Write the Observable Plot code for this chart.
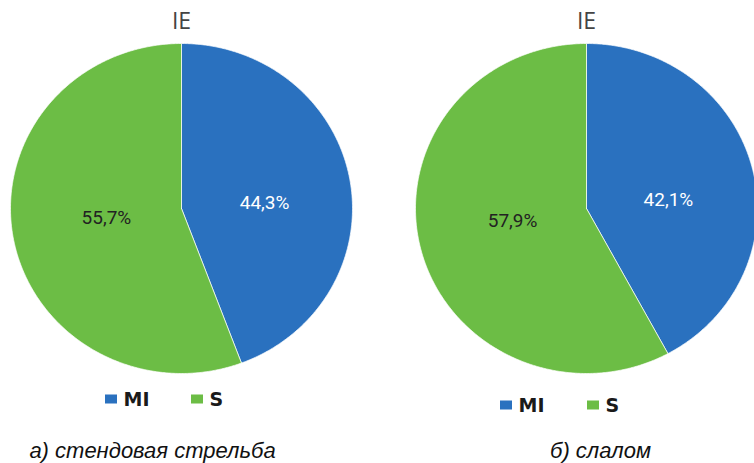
<!DOCTYPE html>
<html><head><meta charset="utf-8">
<script src="https://cdn.jsdelivr.net/npm/d3@7"></script>
<script src="https://cdn.jsdelivr.net/npm/@observablehq/plot@0.6"></script>
<style>body{margin:0;background:#fff} svg{display:block}</style>
</head><body><div id="chart"></div>
<script>
// ---- data ----
const panels = ["а) стендовая стрельба", "б) слалом"];
const panelTitle = "IE";
const categories = ["MI", "S"];
const valuesMI = [44.3, 42.1];
const valuesS = [55.7, 57.9];
const colors = ["#2a71bf", "#6cbd45"];
const labelColors = ["#ffffff", "#222222"];

// ---- layout ----
const W = 754, H = 463;
const centersX = [181, 586], centerY = 208, rx = 171, ry = 165;
const legendSwatchX = [[105, 191], [500, 587]], legendY = [399, 405];
const captionX = [152, 600], captionY = 450, titleY = 21;

const slices = [], labels = [], legend = [], titles = [], captions = [];
panels.forEach((name, p) => {
  const vals = [valuesMI[p], valuesS[p]];
  const total = d3.sum(vals);
  let start = 0;
  vals.forEach((v, i) => {
    const a0 = start / total * 2 * Math.PI, a1 = (start + v) / total * 2 * Math.PI;
    const key = p + "-" + i;
    slices.push({key, cat: categories[i], x: centersX[p], y: centerY});
    const n = Math.max(2, Math.ceil((a1 - a0) / (Math.PI / 360)));
    for (let k = 0; k <= n; k++) {
      const a = a0 + (a1 - a0) * k / n;
      slices.push({key, cat: categories[i], x: centersX[p] + rx * Math.sin(a), y: centerY - ry * Math.cos(a)});
    }
    slices.push({key, cat: categories[i], x: centersX[p], y: centerY});
    const m = (a0 + a1) / 2;
    labels.push({cat: categories[i], text: v.toFixed(1).replace(".", ",") + "%",
      x: centersX[p] + 0.47 * rx * Math.sin(m), y: centerY - 0.25 * ry * Math.cos(m)});
    legend.push({cat: categories[i], x: legendSwatchX[p][i], y: legendY[p]});
    start += v;
  });
  titles.push({text: panelTitle, x: centersX[p], y: titleY});
  captions.push({text: name, x: captionX[p], y: captionY});
});

const plot = Plot.plot({
  width: W, height: H, margin: 0,
  x: {domain: [0, W], range: [0, W], axis: null},
  y: {domain: [0, H], range: [0, H], axis: null},
  color: {domain: categories, range: colors},
  style: {background: "#fff"},
  marks: [
    Plot.line(slices, {x: "x", y: "y", z: "key", fill: "cat", stroke: "#ffffff", strokeWidth: 1, strokeOpacity: 0.7, curve: "linear"}),
    Plot.text(labels, {x: "x", y: "y", dx: 4, dy: 2, text: "text", fill: d => labelColors[categories.indexOf(d.cat)], fontSize: 19, fontFamily: "Roboto"}),
    Plot.rect(legend, {x1: "x", x2: d => d.x + 12, y1: d => d.y - 4.5, y2: d => d.y + 4.5, fill: "cat"}),
    Plot.text(legend, {x: d => d.x + 18, y: "y", text: "cat", textAnchor: "start", fill: "#1a1a1a", fontSize: 19, fontWeight: "bold", fontFamily: "DejaVu Sans"}),
    Plot.text(titles, {x: "x", y: "y", text: "text", fill: "#444", fontSize: 23, fontFamily: "Open Sans"}),
    Plot.text(captions, {x: "x", y: "y", text: "text", fill: "#111", fontSize: 22, fontStyle: "italic", fontFamily: "Liberation Sans"})
  ]
});
document.getElementById("chart").appendChild(plot);
</script></body></html>
